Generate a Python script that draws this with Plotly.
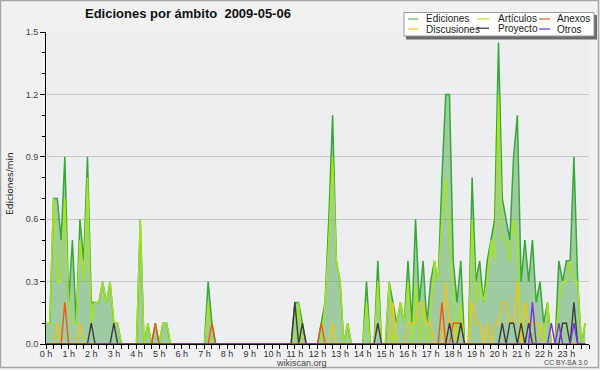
import plotly.graph_objects as go

# ---- data: edits per minute, 10-minute bins (144 per day) ----
hour_labels = [f"{h} h" for h in range(24)]
hours = list(range(24))

ediciones = [
    0.1, 0.1, 0.7, 0.7, 0.5, 0.9,   # 0h
    0.2, 0.5, 0.1, 0.6, 0.4, 0.9,   # 1h
    0.2, 0.2, 0.2, 0.3, 0.2, 0.3,   # 2h
    0.1, 0.1, 0, 0, 0, 0,           # 3h
    0, 0.6, 0, 0.1, 0, 0.1,         # 4h
    0, 0.1, 0.1, 0, 0, 0,           # 5h
    0, 0, 0, 0, 0, 0,               # 6h
    0, 0.3, 0.1, 0, 0, 0,           # 7h
    0, 0, 0, 0, 0, 0,               # 8h
    0, 0, 0, 0, 0, 0,               # 9h
    0, 0, 0, 0, 0, 0,               # 10h
    0.2, 0.2, 0.1, 0, 0, 0,         # 11h
    0, 0.1, 0.2, 0.6, 1.1, 0.4,     # 12h
    0.3, 0, 0.1, 0, 0, 0,           # 13h
    0, 0.3, 0, 0, 0.4, 0,           # 14h
    0, 0.3, 0.2, 0.1, 0.2, 0.1,     # 15h
    0.4, 0.1, 0.6, 0.2, 0.4, 0.1,   # 16h
    0.3, 0.4, 0.3, 0.8, 1.2, 1.2,   # 17h
    0.4, 0.2, 0.4, 0, 0, 0.8,       # 18h
    0.3, 0.4, 0.2, 0.4, 0.5, 0.6,   # 19h
    1.45, 0.7, 0.6, 0.5, 0.9, 1.1,  # 20h
    0.3, 0.5, 0.3, 0.5, 0.2, 0.3,   # 21h
    0.1, 0.2, 0, 0, 0.4, 0.3,       # 22h
    0.4, 0.4, 0.9, 0.3, 0, 0.1,     # 23h
]

articulos = [
    0.1, 0.1, 0.7, 0.3, 0.3, 0.7,
    0.2, 0.1, 0.1, 0.5, 0.3, 0.8,
    0.1, 0.2, 0.2, 0.3, 0.2, 0.3,
    0.1, 0.1, 0, 0, 0, 0,
    0, 0.6, 0, 0.1, 0, 0,
    0, 0.1, 0.1, 0, 0, 0,
    0, 0, 0, 0, 0, 0,
    0, 0.2, 0, 0, 0, 0,
    0, 0, 0, 0, 0, 0,
    0, 0, 0, 0, 0, 0,
    0, 0, 0, 0, 0, 0,
    0, 0.2, 0, 0, 0, 0,
    0, 0, 0.2, 0.5, 0.9, 0.4,
    0.3, 0, 0.1, 0, 0, 0,
    0, 0.2, 0, 0, 0.3, 0,
    0, 0.3, 0, 0.1, 0.2, 0.1,
    0.3, 0, 0.3, 0, 0.2, 0,
    0.1, 0.4, 0.3, 0.6, 0.8, 0.5,
    0.2, 0, 0.2, 0, 0, 0.6,
    0.2, 0.3, 0.2, 0.3, 0.5, 0.4,
    1.2, 0.5, 0.5, 0.4, 0.6, 0.5,
    0, 0.2, 0.1, 0.1, 0, 0.1,
    0, 0.2, 0, 0, 0.2, 0.3,
    0.3, 0.4, 0.3, 0.3, 0, 0.1,
]

anexos = [0.0] * 144
for i, v in {5: 0.2, 29: 0.1, 44: 0.1, 73: 0.1, 105: 0.2, 108: 0.1,
             109: 0.1, 110: 0.1}.items():
    anexos[i] = v

discusiones = [0.0] * 144
for i, v in {3: 0.1, 9: 0.1, 76: 0.1, 92: 0.2, 96: 0.1, 97: 0.1, 98: 0.1,
             99: 0.2, 100: 0.2, 101: 0.1, 102: 0.1, 106: 0.3, 107: 0.1,
             108: 0.1, 113: 0.2, 114: 0.1, 115: 0.1, 117: 0.1, 119: 0.1,
             120: 0.1, 121: 0.2, 122: 0.2, 123: 0.1, 124: 0.1, 125: 0.3,
             127: 0.2, 128: 0.1, 129: 0.1, 130: 0.1, 131: 0.1}.items():
    discusiones[i] = v

proyecto = [0.0] * 144
for i, v in {12: 0.1, 18: 0.1, 66: 0.2, 68: 0.1, 88: 0.1, 107: 0.1,
             110: 0.1, 121: 0.1, 123: 0.1, 124: 0.1, 126: 0.1, 128: 0.1,
             137: 0.1, 138: 0.1, 140: 0.2}.items():
    proyecto[i] = v

otros = [0.0] * 144
for i, v in {129: 0.2, 134: 0.1, 136: 0.1, 140: 0.1}.items():
    otros[i] = v

times = [i / 6 for i in range(144)]

# ---- figure ----
W, H = 600, 370
L, R, T, B = 46, 11, 32, 26
PW, PH = W - L - R, H - T - B


def px(x):
    return (x - L) / PW


def py(y):
    return (H - B - y) / PH


fig = go.Figure()
fig.add_trace(go.Scatter(x=times, y=ediciones, name="Ediciones", mode="lines",
                         line=dict(color="#38a838", width=1.5),
                         fill="tozeroy", fillcolor="rgba(60,160,60,0.44)"))
series = [
    ("Artículos", articulos, "#a6e619"),
    ("Discusiones", discusiones, "#f2c21b"),
    ("Anexos", anexos, "#ee5a14"),
    ("Proyecto", proyecto, "#3c3c3c"),
    ("Otros", otros, "#7f2ee6"),
]
for name, vals, col in series:
    fig.add_trace(go.Scatter(x=times, y=vals, name=name, mode="lines",
                             line=dict(color=col, width=1.4)))

font_main = "Liberation Sans, Arial, sans-serif"

fig.update_layout(
    width=W, height=H, autosize=False,
    margin=dict(l=L, r=R, t=T, b=B, pad=0, autoexpand=False),
    paper_bgcolor="#f1f1f1", plot_bgcolor="#edeef0",
    showlegend=False,
    font=dict(family=font_main, size=9, color="#333"),
)
fig.update_xaxes(
    range=[0, 24], showline=True, linecolor="black", linewidth=1,
    automargin=False,
    tickmode="array", tickvals=hours, ticktext=hour_labels,
    ticks="outside", ticklen=4, tickcolor="black", tickwidth=1,
    ticklabelstandoff=-3,
    tickfont=dict(family=font_main, size=9, color="#333"),
    showgrid=False, zeroline=False,
    minor=dict(dtick=1 / 3, tick0=0, ticks="outside", ticklen=4,
               tickcolor="black", showgrid=False),
)
fig.update_yaxes(
    range=[0, 1.5], showline=True, linecolor="black", linewidth=1,
    automargin=False,
    tickmode="array", tickvals=[0, 0.3, 0.6, 0.9, 1.2, 1.5],
    ticktext=["0.0", "0.3", "0.6", "0.9", "1.2", "1.5"],
    ticks="outside", ticklen=5, tickcolor="black",
    tickfont=dict(family=font_main, size=9, color="#444"),
    showgrid=True, gridcolor="#c8c8c8", gridwidth=1, zeroline=False,
    minor=dict(dtick=0.1, tick0=0, ticks="outside", ticklen=3,
               tickcolor="black", showgrid=False),
)

shapes = []
annotations = []

# outer frame
shapes.append(dict(type="rect", xref="paper", yref="paper",
                   x0=px(0.5), x1=px(598.5), y0=py(367.5), y1=py(0.5),
                   line=dict(color="#a8a8a8", width=1.5), layer="above"))

# title
annotations.append(dict(text="<b>Ediciones por ámbito  2009-05-06</b>",
                        xref="paper", yref="paper", x=px(188), y=py(14),
                        xanchor="center", yanchor="middle", showarrow=False,
                        font=dict(family=font_main, size=13, color="#111")))
# y title
annotations.append(dict(text="Ediciones/min", xref="paper", yref="paper",
                        x=px(10), y=py(184), textangle=-90,
                        xanchor="center", yanchor="middle", showarrow=False,
                        font=dict(family="DejaVu Sans", size=9, color="#222")))
# footers
annotations.append(dict(text="wikiscan.org", xref="paper", yref="paper",
                        x=px(301), y=py(362.5), xanchor="center", yanchor="middle",
                        showarrow=False,
                        font=dict(family=font_main, size=9, color="#444")))
annotations.append(dict(text="CC BY-SA 3.0", xref="paper", yref="paper",
                        x=px(590), y=py(362.5), xanchor="right", yanchor="middle",
                        showarrow=False,
                        font=dict(family=font_main, size=7, color="#444")))

# custom legend
shapes.append(dict(type="rect", xref="paper", yref="paper",
                   x0=px(406), x1=px(597), y0=py(39.5), y1=py(15),
                   fillcolor="#6a6a6a", line=dict(width=0), layer="above"))
shapes.append(dict(type="rect", xref="paper", yref="paper",
                   x0=px(404), x1=px(594), y0=py(36), y1=py(12.5),
                   fillcolor="white", line=dict(color="#9a9a9a", width=1),
                   layer="above"))
legend_items = [
    ("Ediciones", "#7fcc7f", 408, 418, 424, 19),
    ("Artículos", "#c2ee55", 477, 489, 496, 18.8),
    ("Anexos", "#f07a45", 539, 550, 555, 19),
    ("Discusiones", "#f5d055", 408, 418, 424, 29),
    ("Proyecto", "#555555", 477, 489, 496, 28.3),
    ("Otros", "#9050ee", 539, 550, 555, 29),
]
for name, col, lx0, lx1, tx, yy in legend_items:
    shapes.append(dict(type="line", xref="paper", yref="paper",
                       x0=px(lx0), x1=px(lx1), y0=py(yy), y1=py(yy),
                       line=dict(color=col, width=1.5), layer="above"))
    annotations.append(dict(text=name, xref="paper", yref="paper",
                            x=px(tx), y=py(yy), xanchor="left", yanchor="middle",
                            showarrow=False,
                            font=dict(family=font_main, size=10, color="#222")))

fig.update_layout(shapes=shapes, annotations=annotations)
fig.write_html("out.html",
               config={"displayModeBar": False},
               post_script="document.body.style.margin='0';"
                           "document.body.style.padding='0';"
                           "document.body.style.overflow='hidden';")
